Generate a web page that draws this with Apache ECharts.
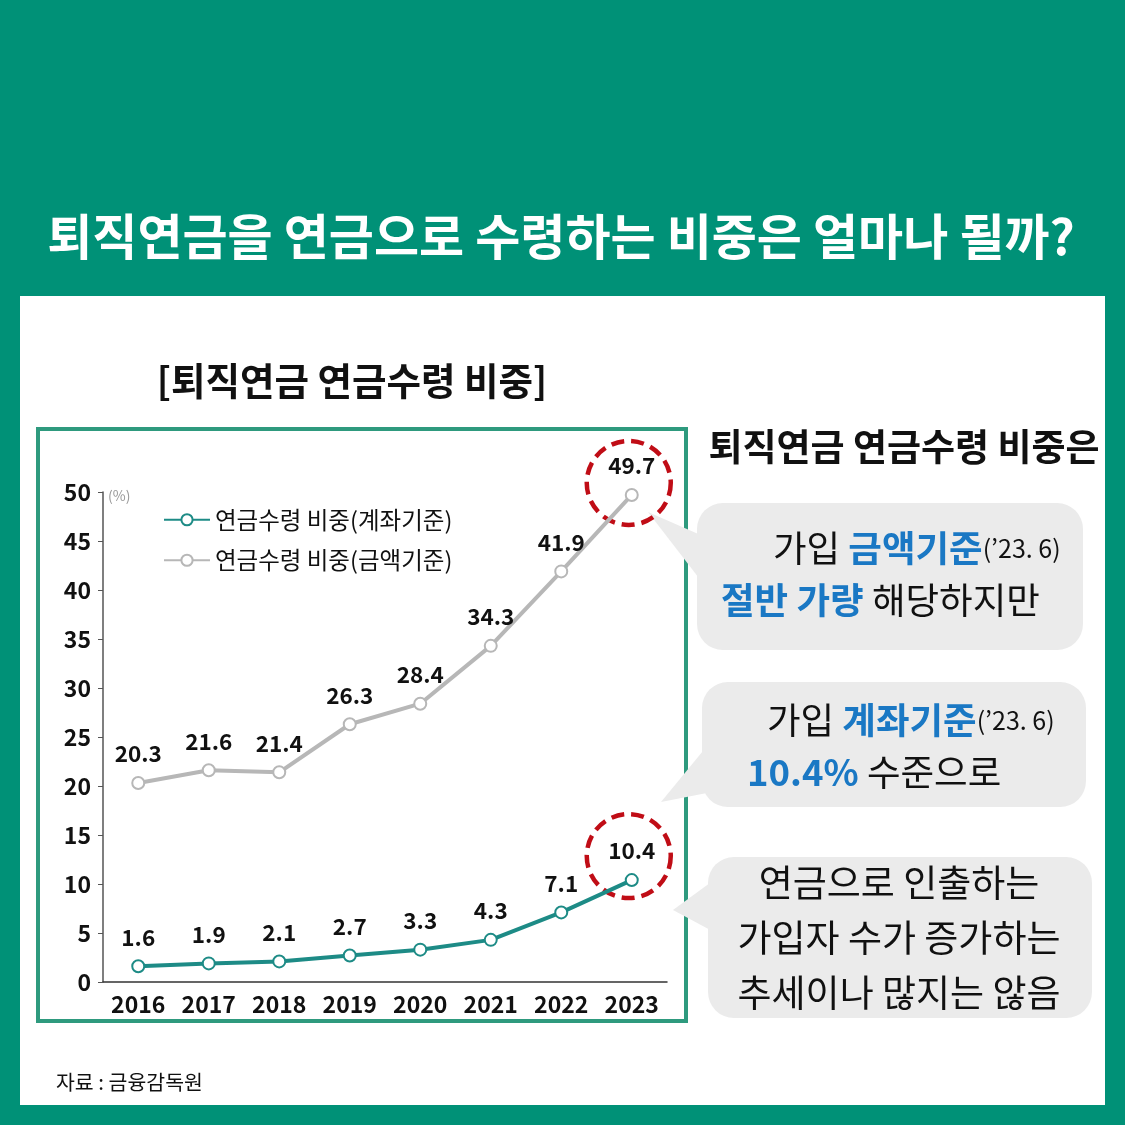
<!DOCTYPE html>
<html><head><meta charset="utf-8">
<script src="https://cdn.jsdelivr.net/npm/echarts@6/dist/echarts.min.js"></script>
<style>html,body{margin:0;padding:0;background:#009177;}#c{width:1125px;height:1125px;}</style>
</head><body><div id="c"></div>
<script>
const years = ['2016','2017','2018','2019','2020','2021','2022','2023'];
const accountBasis = [1.6, 1.9, 2.1, 2.7, 3.3, 4.3, 7.1, 10.4];
const amountBasis = [20.3, 21.6, 21.4, 26.3, 28.4, 34.3, 41.9, 49.7];
const seriesNames = ['연금수령 비중(계좌기준)', '연금수령 비중(금액기준)'];
const yMin = 0, yMax = 50, yStep = 5;

const FONT = '"Noto Sans CJK KR","Noto Sans",sans-serif';
const TEAL = '#1d8b86', GRAY = '#b7b7b7', BLUE = '#1a78c4', RED = '#c00d16';

const chart = echarts.init(document.getElementById('c'));

function bubble(x, y, w, h, pts) {
  return [
    {type:'polygon', z:-5, shape:{points:pts}, style:{fill:'#ebebeb'}},
    {type:'rect', z:-5, shape:{x:x, y:y, width:w, height:h, r:26}, style:{fill:'#ebebeb'}}
  ];
}
function txt(x, y, text, size, opts) {
  opts = opts || {};
  return {type:'text', z:10, style:Object.assign({x:x, y:y, text:text, fill:opts.fill||'#111',
    fontSize:size, fontWeight:opts.weight||'normal', fontFamily:FONT,
    textAlign:opts.align||'left', textVerticalAlign:'middle'}, opts.style||{})};
}
const callRich = {
  k:{fontSize:36.5, fontFamily:FONT, fill:'#111', fontWeight:'normal'},
  b:{fontSize:36.5, fontFamily:FONT, fill:BLUE, fontWeight:'bold'},
  s:{fontSize:25, fontFamily:FONT, fill:'#111', fontWeight:'normal'}
};
function richTxt(x, y, text) {
  return {type:'text', z:10, style:{x:x, y:y, text:text, rich:callRich, textAlign:'left', textVerticalAlign:'middle'}};
}

const graphics = [
  {type:'rect', z:-10, shape:{x:20, y:296, width:1085, height:809}, style:{fill:'#ffffff'}},
  {type:'rect', z:-9, shape:{x:38, y:429, width:648, height:592}, style:{fill:'#ffffff', stroke:'#2e9a7e', lineWidth:4}},
  txt(561, 236, '퇴직연금을 연금으로 수령하는 비중은 얼마나 될까?', 49, {fill:'#ffffff', weight:'bold', align:'center'}),
  txt(352, 381, '[퇴직연금 연금수령 비중]', 37.5, {weight:'bold', align:'center'}),
  txt(904, 447, '퇴직연금 연금수령 비중은', 37, {weight:'bold', align:'center'}),
  txt(108, 496, '(%)', 14, {fill:'#999999'}),
  txt(56, 1082, '자료 : 금융감독원', 20.5, {}),
  ...bubble(697, 503, 386, 147, [[648,512],[712,540],[712,595]]),
  ...bubble(702, 682, 384, 125, [[661,802],[712,740],[712,792]]),
  ...bubble(708, 857, 384, 161, [[673,910],[714,880],[714,932]]),
  richTxt(773, 548, '{k|가입 }{b|금액기준}{s|(’23. 6)}'),
  richTxt(721, 600, '{b|절반 가량 }{k|해당하지만}'),
  richTxt(767, 720, '{k|가입 }{b|계좌기준}{s|(’23. 6)}'),
  richTxt(747, 772, '{b|10.4% }{k|수준으로}'),
  txt(899, 883, '연금으로 인출하는', 37, {align:'center'}),
  txt(899, 938, '가입자 수가 증가하는', 37, {align:'center'}),
  txt(899, 993, '추세이나 많지는 않음', 37, {align:'center'})
];

const last = years.length - 1;
chart.setOption({
  backgroundColor:'#009177',
  animation:false,
  grid:{left:103, right:458, top:492, bottom:143, containLabel:false},
  legend:{
    data:seriesNames, orient:'vertical', left:158, top:503, itemWidth:46, itemHeight:14, itemGap:17,
    textStyle:{fontSize:23.5, color:'#111', fontFamily:FONT}
  },
  xAxis:{
    type:'category', data:years, boundaryGap:true,
    axisLine:{lineStyle:{color:'#333', width:1.5}}, axisTick:{show:false},
    axisLabel:{interval:0, fontSize:23, fontWeight:'bold', color:'#111', fontFamily:FONT, margin:11}
  },
  yAxis:{
    type:'value', min:yMin, max:yMax, interval:yStep,
    axisLine:{show:true, lineStyle:{color:'#555', width:1.5}},
    axisTick:{show:true, length:5, lineStyle:{color:'#555'}},
    splitLine:{show:false},
    axisLabel:{fontSize:23, fontWeight:'bold', color:'#111', fontFamily:FONT, margin:12}
  },
  series:[
    {name:seriesNames[0], type:'line', data:accountBasis, z:5,
     lineStyle:{color:TEAL, width:4}, itemStyle:{color:TEAL, borderWidth:2},
     symbol:'emptyCircle', symbolSize:12,
     label:{show:true, position:'top', distance:11, fontSize:22.5, fontWeight:'bold', color:'#111', fontFamily:FONT}},
    {name:seriesNames[1], type:'line', data:amountBasis, z:5,
     lineStyle:{color:GRAY, width:4}, itemStyle:{color:GRAY, borderWidth:2},
     symbol:'emptyCircle', symbolSize:12,
     label:{show:true, position:'top', distance:11, fontSize:22.5, fontWeight:'bold', color:'#111', fontFamily:FONT}},
    {name:'highlight', type:'scatter', silent:true, z:3,
     data:[
       {value:[years[last], amountBasis[last]], symbolOffset:[-3,-12]},
       {value:[years[last], accountBasis[last]], symbolOffset:[-3,-24]}
     ],
     symbol:'circle', symbolSize:84,
     itemStyle:{opacity:1, color:'rgba(0,0,0,0)', borderColor:RED, borderWidth:4.5, borderType:[13,7]}}
  ],
  graphic:graphics
});
</script></body></html>
